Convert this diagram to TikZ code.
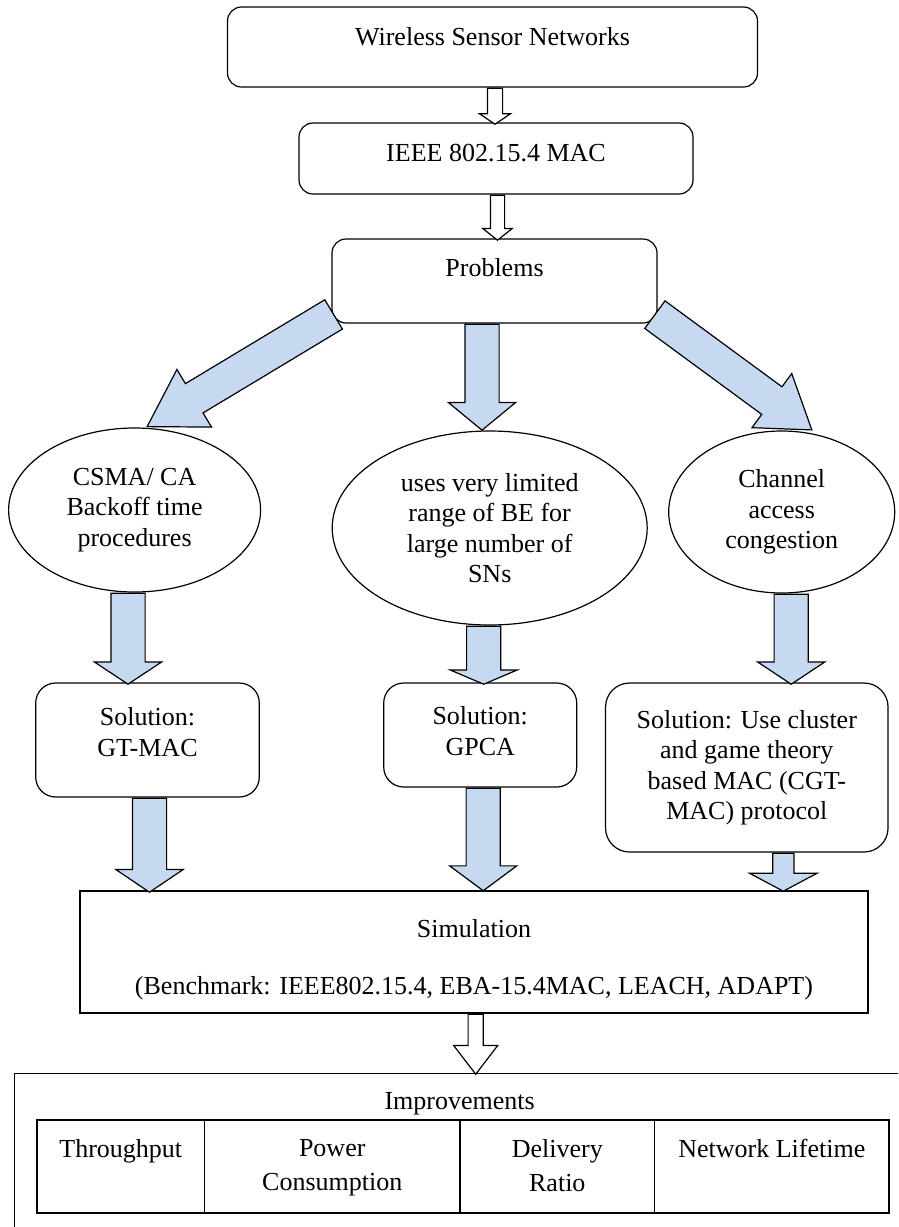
\documentclass[tikz,border=0pt]{standalone}
\usepackage{fontspec}
\setmainfont{Liberation Serif}
\usetikzlibrary{shapes.geometric,shapes.arrows}
\definecolor{arrowblue}{RGB}{198,217,241}

\begin{document}
\begin{tikzpicture}[x=1pt, y=-1pt,
  every node/.style={font=\fontsize{26}{30.5}\selectfont, line width=1.2pt},
  box/.style={draw, rectangle, rounded corners=14pt, inner sep=0pt},
  sol/.style={draw, rectangle, rounded corners=20pt, inner sep=0pt, align=center},
  prob/.style={draw, ellipse, inner sep=0pt, align=center},
  boxtext/.style={inner sep=0pt, align=center},
  cell/.style={draw, rectangle, inner sep=0pt, minimum height=93pt},
  celltext/.style={anchor=north, yshift=-19pt, inner sep=0pt, align=center, font=\fontsize{26}{34}\selectfont},
  fat/.style={single arrow, draw, fill=arrowblue, inner xsep=0pt, inner ysep=16.5pt, single arrow head extend=16.5pt, anchor=tail},
  hollow/.style={single arrow, draw, fill=white, inner xsep=0pt, inner ysep=7pt, single arrow head extend=8pt, anchor=tail}]
\useasboundingbox (0,0) rectangle (898,1227);
\clip (0,0) rectangle (898,1227);
% top chain
\node[box, minimum width=530pt, text height=38.6pt, text depth=41.4pt] (wsn) at (492.5,47) {Wireless Sensor Networks};
\node[box, minimum width=394pt, text height=38.6pt, text depth=32.4pt] (mac) at (496,158.5) {IEEE 802.15.4 MAC};
\node[box, minimum width=325pt, text height=37.6pt, text depth=46.4pt] (prb) at (494.5,281) {Problems};
% problems
\node[prob, minimum width=252pt, minimum height=164pt] (csma) at (134.6,510) {CSMA/ CA\\Backoff time\\procedures};
\node[prob, minimum width=315pt, minimum height=194pt] (be) at (489.7,528) {uses very limited\\range of BE for\\large number of\\SNs};
\node[prob, minimum width=226pt, minimum height=162pt] (chan) at (781.7,512) {Channel\\access\\congestion};
% solutions
\node[sol, minimum width=223.6pt, minimum height=114pt, label={[boxtext, yshift=8pt, name=gtmact]center:{Solution:\\GT-MAC}}] (gtmac) at (147.5,740) {};
\node[sol, minimum width=193pt, minimum height=104pt, label={[boxtext, yshift=4pt, name=gpcat]center:{Solution:\\GPCA}}] (gpca) at (480.2,735) {};
\node[sol, minimum width=282.5pt, minimum height=169pt, rounded corners=24pt] (cgt) at (746.8,767.5) {Solution: Use cluster\\and game theory\\based MAC (CGT-\\MAC) protocol};
\node[draw, rectangle, minimum width=788pt, minimum height=122pt, label={[boxtext, yshift=-8pt, name=simt]center:{Simulation\\[26.5pt](Benchmark: IEEE802.15.4, EBA-15.4MAC, LEACH, ADAPT)}}] (sim) at (474,952) {};
% improvements
\node[draw, rectangle, anchor=north west, minimum width=950pt, minimum height=250pt] (impr) at (14,1073) {};
\node[inner sep=0pt] (imprt) at (459.6,1104) {Improvements};
\node[cell, minimum width=167.5pt, label={[celltext, name=imp1]north:Throughput}] (c1) at (120.75,1166.5) {};
\node[cell, minimum width=255.5pt, label={[celltext, name=imp2]north:{Power\\Consumption}}] (c2) at (332.25,1166.5) {};
\node[cell, minimum width=194.6pt, label={[celltext, name=imp3]north:{Delivery\\Ratio}}] (c3) at (557.3,1166.5) {};
\node[cell, minimum width=234.4pt, label={[celltext, name=imp4]north:Network Lifetime}] (c4) at (771.8,1166.5) {};
% hollow arrows
\node[hollow, rotate=-90, minimum height=36pt, single arrow tip angle=112] (h0) at ([xshift=2.5pt]wsn.south) {};
\node[hollow, rotate=-90, minimum height=45pt, inner ysep=6.5pt, single arrow head extend=7.5pt, single arrow tip angle=103] (h1) at ([xshift=1.5pt]mac.south) {};
\node[hollow, rotate=-90, minimum height=60pt, single arrow head extend=14.5pt, single arrow tip angle=75] (h2) at ([xshift=1.7pt]sim.south) {};
% blue arrows
\node[fat, rotate=211.04, minimum height=217.6pt, single arrow tip angle=62.9] (f0) at ([shift={(2.7,-9.5)}]prb.south west) {};
\node[fat, rotate=-90, minimum height=106pt, single arrow tip angle=101] (f1) at ([xshift=-12.5pt]prb.south) {};
\node[fat, rotate=-36.3, minimum height=194.7pt, single arrow tip angle=68.3] (f2) at ([shift={(-3.2,-9.3)}]prb.south east) {};
\node[fat, rotate=-90, minimum height=91pt, single arrow tip angle=113] (f3) at ([xshift=-6.6pt]csma.south) {};
\node[fat, rotate=-90, minimum height=58pt, single arrow tip angle=134] (f4) at ([xshift=-6pt]be.south) {};
\node[fat, rotate=-90, minimum height=90pt, single arrow tip angle=113] (f5) at ([xshift=9.5pt]chan.south) {};
\node[fat, rotate=-90, minimum height=94pt, single arrow tip angle=112] (f6) at ([xshift=2pt]gtmac.south) {};
\node[fat, rotate=-90, minimum height=102.5pt, single arrow tip angle=107] (f7) at ([xshift=3pt]gpca.south) {};
\node[fat, rotate=-90, minimum height=38pt, inner ysep=10pt, single arrow head extend=23.3pt, single arrow tip angle=124] (f8) at ([xshift=36.5pt]cgt.south) {};
\end{tikzpicture}
\end{document}
